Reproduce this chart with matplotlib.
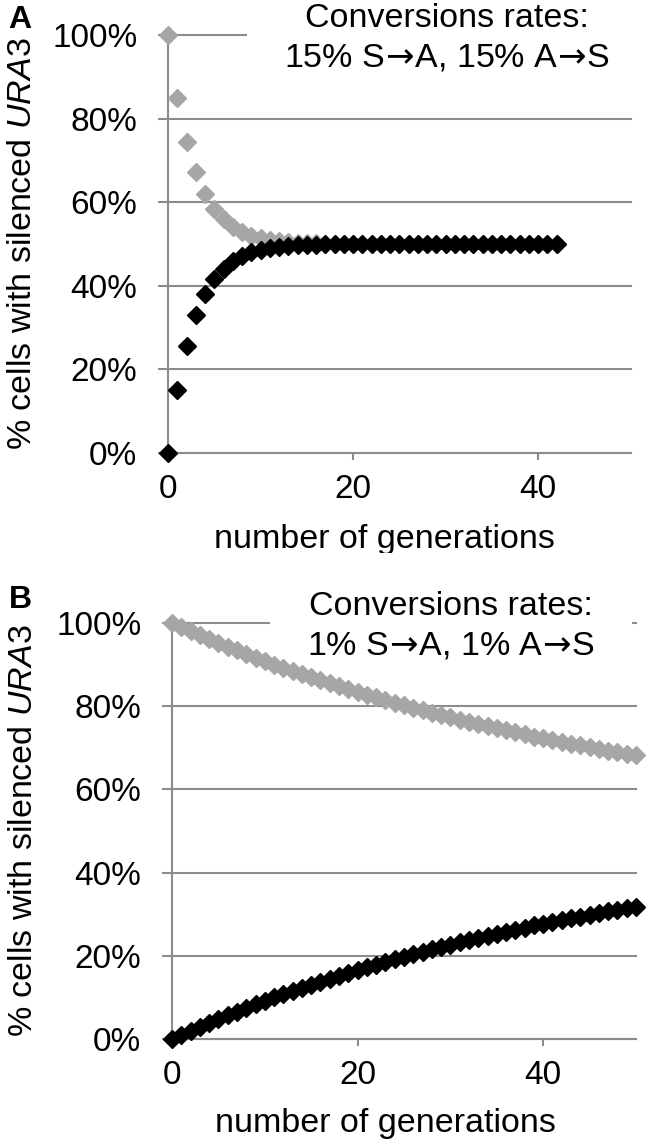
import matplotlib
matplotlib.use("Agg")
import matplotlib.pyplot as plt
from matplotlib.ticker import FuncFormatter

plt.rcParams['font.family'] = ['Liberation Sans', 'DejaVu Sans']
plt.rcParams['mathtext.fontset'] = 'custom'
plt.rcParams['mathtext.rm'] = 'Liberation Sans'
plt.rcParams['mathtext.it'] = 'Liberation Sans:italic'
plt.rcParams['mathtext.sf'] = 'DejaVu Sans'

# ---------------- data ----------------
gens_a = list(range(0, 43))
silenced_a = [1.000, 0.850, 0.745, 0.672, 0.620, 0.584, 0.559, 0.541, 0.529, 0.520,
              0.514, 0.510, 0.507, 0.505, 0.503, 0.502, 0.502, 0.501, 0.501, 0.501,
              0.500, 0.500, 0.500, 0.500, 0.500, 0.500, 0.500, 0.500, 0.500, 0.500,
              0.500, 0.500, 0.500, 0.500, 0.500, 0.500, 0.500, 0.500, 0.500, 0.500,
              0.500, 0.500, 0.500]
active_a = [0.000, 0.150, 0.255, 0.329, 0.380, 0.416, 0.441, 0.459, 0.471, 0.480,
            0.486, 0.490, 0.493, 0.495, 0.497, 0.498, 0.498, 0.499, 0.499, 0.499,
            0.500, 0.500, 0.500, 0.500, 0.500, 0.500, 0.500, 0.500, 0.500, 0.500,
            0.500, 0.500, 0.500, 0.500, 0.500, 0.500, 0.500, 0.500, 0.500, 0.500,
            0.500, 0.500, 0.500]

gens_b = list(range(0, 51))
silenced_b = [1.000, 0.990, 0.980, 0.971, 0.961, 0.952, 0.943, 0.934, 0.925, 0.917,
              0.909, 0.900, 0.892, 0.885, 0.877, 0.869, 0.862, 0.855, 0.848, 0.841,
              0.834, 0.827, 0.821, 0.814, 0.808, 0.802, 0.796, 0.790, 0.784, 0.778,
              0.773, 0.767, 0.762, 0.757, 0.752, 0.747, 0.742, 0.737, 0.732, 0.727,
              0.723, 0.718, 0.714, 0.710, 0.706, 0.701, 0.697, 0.693, 0.690, 0.686,
              0.682]
active_b = [0.000, 0.010, 0.020, 0.029, 0.039, 0.048, 0.057, 0.066, 0.075, 0.083,
            0.091, 0.100, 0.108, 0.115, 0.123, 0.131, 0.138, 0.145, 0.152, 0.159,
            0.166, 0.173, 0.179, 0.186, 0.192, 0.198, 0.204, 0.210, 0.216, 0.222,
            0.227, 0.233, 0.238, 0.243, 0.248, 0.253, 0.258, 0.263, 0.268, 0.273,
            0.277, 0.282, 0.286, 0.290, 0.294, 0.299, 0.303, 0.307, 0.310, 0.314,
            0.318]

x_ticks = [0, 20, 40]
y_ticks = [0.0, 0.2, 0.4, 0.6, 0.8, 1.0]
ARROW = r"$\!\mathsf{\rightarrow}\!$"
annot_a = "Conversions rates:\n15% S" + ARROW + "A, 15% A" + ARROW + "S"
annot_b = "Conversions rates:\n1% S" + ARROW + "A, 1% A" + ARROW + "S"
xlabel = "number of generations"
ylabel = r"% cells with silenced $\it{URA3}$"

# ---------------- styling ----------------
GRID = '#8c8c8c'
LIGHT = '#a6a6a6'
FS = 24.5
TFS = 24

fig = plt.figure(figsize=(6.5, 11.47), dpi=100)

def setup(ax, xs, s_vals, a_vals, annot, annot_pos, ylab_x, xlab_xy):
    ax.set_xlim(0, 50)
    ax.set_ylim(0, 1)
    ax.set_axisbelow(True)
    for side in ('top', 'right'):
        ax.spines[side].set_visible(False)
    for side in ('left', 'bottom'):
        ax.spines[side].set_color(GRID)
        ax.spines[side].set_linewidth(1.5)
    ax.yaxis.grid(True, color=GRID, linewidth=1.5)
    ax.set_xticks(x_ticks)
    ax.set_yticks(y_ticks)
    for t in ax.yaxis.get_major_ticks():
        t.gridline.set_clip_on(False)
    ax.yaxis.set_major_formatter(FuncFormatter(lambda v, p: f"{round(v*100)}%"))
    ax.tick_params(axis='y', length=7, width=1.5, color=GRID, pad=15, labelsize=TFS)
    ax.tick_params(axis='x', length=5, width=1.5, color=GRID, pad=10, labelsize=TFS)
    ax.plot(xs, s_vals, linestyle='none', marker='D', markersize=8.8,
            color=LIGHT, clip_on=False, zorder=3)
    ax.plot(xs, a_vals, linestyle='none', marker='D', markersize=8.8,
            color='black', clip_on=False, zorder=4)
    ax.text(annot_pos[0], annot_pos[1], annot, transform=fig.transFigure,
            ha='center', va='center', multialignment='center', fontsize=FS,
            linespacing=1.35, zorder=2, clip_on=False,
            bbox=dict(boxstyle='square,pad=1.1', fc='white', ec='none'))
    ax.set_ylabel(ylabel, fontsize=FS)
    ax.yaxis.set_label_coords(ylab_x, 0.5)
    ax.yaxis.label.set_verticalalignment('center')
    ax.set_xlabel(xlabel, fontsize=FS)
    ax.xaxis.set_label_coords(xlab_xy[0], xlab_xy[1])
    ax.xaxis.label.set_verticalalignment('center')

ax_a = fig.add_axes([168/650, 1-453/1147, (630.5-168)/650, (453-35)/1147])
setup(ax_a, gens_a, silenced_a, active_a, annot_a,
      (447/650, 1-38/1147), -0.315, (0.467, -0.208))

ax_b = fig.add_axes([172/650, 1-1039/1147, (636-172)/650, (1039-623)/1147])
setup(ax_b, gens_b, silenced_b, active_b, annot_b,
      (451/650, 1-626/1147), -0.32, (0.459, -0.202))

fig.text(20/650, 1-20/1147, 'A', fontsize=23, fontweight='bold', ha='center', va='center')
fig.text(20/650, 1-600/1147, 'B', fontsize=23, fontweight='bold', ha='center', va='center')

fig.savefig('out.png', dpi=100)
